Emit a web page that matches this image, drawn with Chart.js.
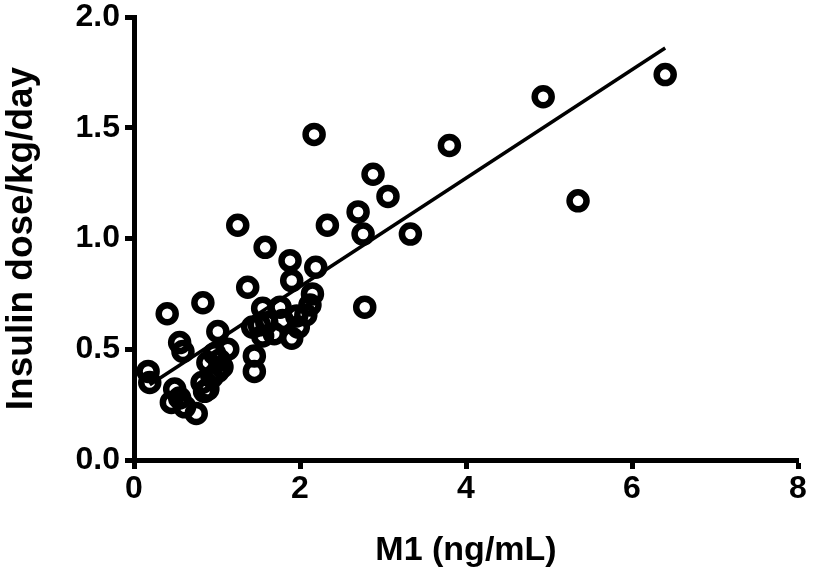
<!DOCTYPE html>
<html>
<head>
<meta charset="utf-8">
<script src="https://cdn.jsdelivr.net/npm/chart.js@4.4.1/dist/chart.umd.min.js"></script>
<style>
  html, body { margin: 0; padding: 0; background: #fff; }
  #wrap { width: 813px; height: 577px; }
</style>
</head>
<body>
<div id="wrap"><canvas id="scatterChart" width="813" height="577"></canvas></div>
<script>
// Data
const m1Values = [
  6.40, 4.93, 5.35, 3.80, 2.17, 2.88, 3.06, 2.70, 2.33, 2.76,
  3.33, 2.78, 1.25, 1.58, 1.88, 2.19, 1.90, 1.37, 2.15, 0.83,
  0.40, 2.12, 1.55, 1.76, 1.60, 1.79, 1.43, 1.51, 1.96, 2.07,
  1.90, 1.69, 1.55, 1.45, 1.45, 1.01, 0.55, 0.59, 0.17, 0.19,
  1.13, 0.97, 0.89, 1.06, 0.94, 0.82, 0.89, 0.49, 0.55, 0.45,
  0.61, 0.75, 0.85, 1.01, 1.03, 1.98
];
const doseValues = [
  1.74, 1.64, 1.17, 1.42, 1.47, 1.29, 1.19, 1.12, 1.06, 1.02,
  1.02, 0.69, 1.06, 0.96, 0.90, 0.87, 0.81, 0.78, 0.75, 0.71,
  0.66, 0.70, 0.685, 0.69, 0.62, 0.63, 0.60, 0.61, 0.65, 0.655,
  0.55, 0.57, 0.56, 0.47, 0.40, 0.58, 0.53, 0.49, 0.40, 0.35,
  0.50, 0.48, 0.44, 0.42, 0.375, 0.35, 0.32, 0.32, 0.28, 0.26,
  0.24, 0.21, 0.31, 0.40, 0.45, 0.60
];

// Regression line end points
const fitX = [0.19, 6.40];
const fitY = [0.34, 1.86];

// Axis ranges and steps
const xRange = [0, 8];
const yRange = [0, 2];
const xStep = 2;
const yStep = 0.5;

const points = m1Values.map((x, i) => ({ x: x, y: doseValues[i] }));
const fitLine = fitX.map((x, i) => ({ x: x, y: fitY[i] }));

const tickFont = { family: 'Liberation Sans, Arial, sans-serif', size: 32, weight: 'bold' };
const xTitleFont = { family: 'Liberation Sans, Arial, sans-serif', size: 34, weight: 'bold' };
const yTitleFont = { family: 'Liberation Sans, Arial, sans-serif', size: 37, weight: 'bold' };

const ctx = document.getElementById('scatterChart').getContext('2d');
const scatterChart = new Chart(ctx, {
  type: 'scatter',
  data: {
    datasets: [{
      label: 'Insulin dose',
      data: points,
      pointStyle: 'circle',
      pointRadius: 8.5,
      pointBorderWidth: 6.5,
      pointBackgroundColor: 'rgba(0,0,0,0)',
      pointBorderColor: '#000',
      order: 2,
    }, {
      label: 'Fit',
      type: 'line',
      data: fitLine,
      showLine: true,
      borderColor: '#000',
      borderWidth: 3.5,
      pointRadius: 0,
      fill: false,
      order: 1,
    }],
  },
  options: {
    responsive: false,
    animation: false,
    layout: {
      padding: { top: 17, right: 14, left: 0, bottom: 0 },
    },
    plugins: {
      legend: { display: false },
      tooltip: { enabled: false },
    },
    scales: {
      x: {
        type: 'linear',
        min: xRange[0],
        max: xRange[1],
        ticks: {
          stepSize: xStep,
          color: '#000',
          font: tickFont,
          padding: 1,
          maxRotation: 0,
        },
        grid: {
          display: true,
          drawOnChartArea: false,
          drawTicks: true,
          tickLength: 9,
          tickWidth: 5,
          tickColor: '#000',
        },
        border: { display: true, color: '#000', width: 5 },
        title: {
          display: true,
          text: 'M1 (ng/mL)',
          color: '#000',
          font: xTitleFont,
          padding: { top: 0, bottom: 6 },
        },
        afterFit: (scale) => {
          scale.height = 117;
          scale.paddingLeft = 0;
          scale.paddingRight = 0;
        },
      },
      y: {
        type: 'linear',
        min: yRange[0],
        max: yRange[1],
        ticks: {
          stepSize: yStep,
          color: '#000',
          font: tickFont,
          padding: 5,
          callback: (v) => Number(v).toFixed(1),
        },
        grid: {
          display: true,
          drawOnChartArea: false,
          drawTicks: true,
          tickLength: 9,
          tickWidth: 5,
          tickColor: '#000',
        },
        border: { display: true, color: '#000', width: 5 },
        title: {
          display: true,
          text: 'Insulin dose/kg/day',
          color: '#000',
          font: yTitleFont,
          padding: { top: 0, bottom: 0 },
        },
        afterFit: (scale) => {
          scale.width = 134;
          scale.paddingTop = 0;
          scale.paddingBottom = 0;
        },
      },
    },
  },
});
</script>
</body>
</html>
